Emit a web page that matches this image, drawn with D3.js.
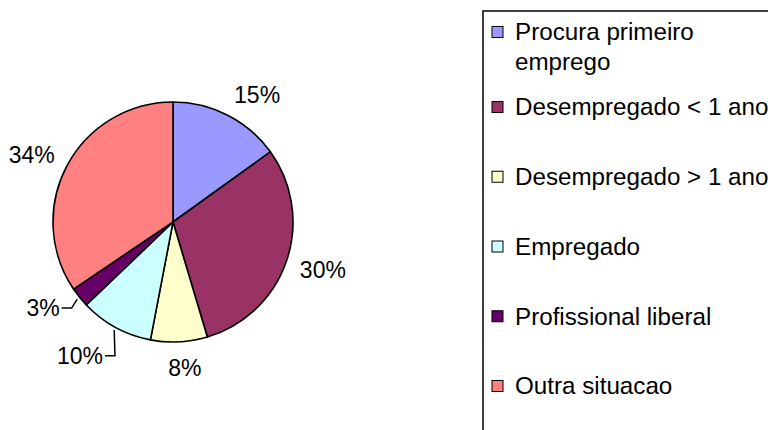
<!DOCTYPE html>
<html>
<head>
<meta charset="utf-8">
<script src="https://cdn.jsdelivr.net/npm/d3@7"></script>
<style>
  body { margin: 0; background: #fff; }
  svg { display: block; }
  text { font-family: "Liberation Sans", Arial, sans-serif; fill: #000; }
</style>
</head>
<body>
<script>
  // data (percent of total)
  var categories = ["Procura primeiro emprego", "Desempregado < 1 ano", "Desempregado > 1 ano",
                    "Empregado", "Profissional liberal", "Outra situacao"];
  var shares = [15.0, 30.2, 7.6, 9.8, 2.7, 34.3];
  var colors = ["#9999ff", "#993366", "#ffffcc", "#ccffff", "#660066", "#ff8080"];

  var width = 768, height = 430;
  var cx = 173, cy = 222, radius = 120;
  var labelSize = 23, legendSize = 24.2;

  // small hand tweaks for the label layout (px), like the original best-fit placement
  var labelNudge = [[0, 0], [0, 2], [5, 4], [6, 16], [3, 2], [0, 0]];
  var withLeader = [false, false, false, true, true, false];

  var svg = d3.select("body").append("svg")
      .attr("width", width)
      .attr("height", height);

  var total = d3.sum(shares);
  var pie = d3.pie().sort(null).value(function(d) { return d; });
  var arcs = pie(shares);
  var arc = d3.arc().innerRadius(0).outerRadius(radius);
  var pct = function(v) { return Math.round(v / total * 100) + "%"; };

  var g = svg.append("g")
      .attr("transform", "translate(" + cx + "," + cy + ")");

  g.selectAll("path.slice")
      .data(arcs)
      .enter()
      .append("path")
      .attr("class", "slice")
      .attr("d", arc)
      .attr("fill", function(d, i) { return colors[i]; })
      .attr("stroke", "#000")
      .attr("stroke-width", 1.6)
      .attr("stroke-linejoin", "round");

  // labels
  arcs.forEach(function(d, i) {
    var mid = (d.startAngle + d.endAngle) / 2;
    var s = Math.sin(mid), c = -Math.cos(mid);
    var px = s * (radius + 14) + labelNudge[i][0];
    var py = c * (radius + 14) + labelNudge[i][1];
    var anchor = s > 0.3 ? "start" : (s < -0.3 ? "end" : "middle");
    var tx = px, ty = py + c * labelSize * 0.37;

    if (withLeader[i]) {
      var sx = s * (radius + 3), sy = c * (radius + 3);
      var ex = px - 10;
      g.append("path")
          .attr("d", "M" + sx + "," + sy + "L" + px + "," + py + "L" + ex + "," + py)
          .attr("fill", "none")
          .attr("stroke", "#000")
          .attr("stroke-width", 1.5);
      tx = ex - 2;
      ty = py;
      anchor = "end";
    }

    g.append("text")
        .attr("x", tx)
        .attr("y", ty)
        .attr("dy", "0.35em")
        .attr("text-anchor", anchor)
        .attr("font-size", labelSize)
        .text(pct(d.data));
  });

  // legend
  var legend = svg.append("g");
  legend.append("rect")
      .attr("x", 483)
      .attr("y", 11)
      .attr("width", 320)
      .attr("height", 440)
      .attr("fill", "#fff")
      .attr("stroke", "#000")
      .attr("stroke-width", 1.5);

  var rowY = function(i) { return i === 0 ? 32 : 107 + (i - 1) * 69.75; };
  var lines = [["Procura primeiro", "emprego"]].concat(categories.slice(1).map(function(t) { return [t]; }));

  var rows = legend.selectAll("g.row")
      .data(categories)
      .enter()
      .append("g")
      .attr("class", "row")
      .attr("transform", function(d, i) { return "translate(0," + rowY(i) + ")"; });

  rows.append("rect")
      .attr("x", 492)
      .attr("y", -5.5)
      .attr("width", 11)
      .attr("height", 11)
      .attr("fill", function(d, i) { return colors[i]; })
      .attr("stroke", "#000")
      .attr("stroke-width", 1);

  rows.each(function(d, i) {
    var row = d3.select(this);
    lines[i].forEach(function(t, j) {
      row.append("text")
          .attr("x", 515)
          .attr("y", j * 30)
          .attr("dy", "0.35em")
          .attr("font-size", legendSize)
          .text(t);
    });
  });
</script>
</body>
</html>
